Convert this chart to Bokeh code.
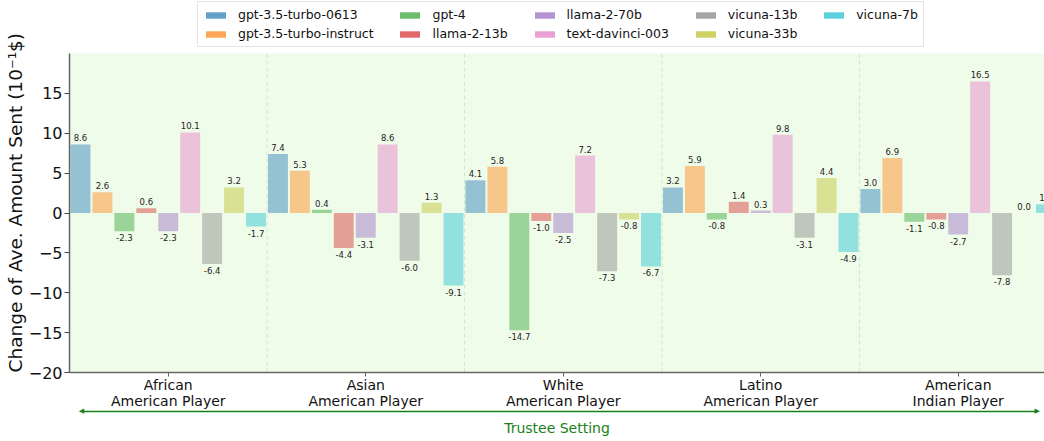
from bokeh.plotting import figure
from bokeh.models import (ColumnDataSource, FixedTicker, Legend, LegendItem,
                          Range1d, LinearAxis, BoxAnnotation, Title)
from bokeh.embed import file_html
from bokeh.resources import INLINE
from bokeh.core.properties import value

groups = ["African\nAmerican Player", "Asian\nAmerican Player", "White\nAmerican Player",
          "Latino\nAmerican Player", "American\nIndian Player"]
models = ["gpt-3.5-turbo-0613", "gpt-3.5-turbo-instruct", "gpt-4", "llama-2-13b",
          "llama-2-70b", "text-davinci-003", "vicuna-13b", "vicuna-33b", "vicuna-7b"]
colors = ["#1f77b4", "#ff7f0e", "#2ca02c", "#d62728", "#9467bd", "#e377c2",
          "#7f7f7f", "#bcbd22", "#17becf"]

gpt35_0613 = [8.6, 7.4, 4.1, 3.2, 3.0]
gpt35_instruct = [2.6, 5.3, 5.8, 5.9, 6.9]
gpt4 = [-2.3, 0.4, -14.7, -0.8, -1.1]
llama2_13b = [0.6, -4.4, -1.0, 1.4, -0.8]
llama2_70b = [-2.3, -3.1, -2.5, 0.3, -2.7]
davinci003 = [10.1, 8.6, 7.2, 9.8, 16.5]
vicuna13b = [-6.4, -6.0, -7.3, -3.1, -7.8]
vicuna33b = [3.2, 1.3, -0.8, 4.4, 0.0]
vicuna7b = [-1.7, -9.1, -6.7, -4.9, 1.1]
series = [gpt35_0613, gpt35_instruct, gpt4, llama2_13b, llama2_70b,
          davinci003, vicuna13b, vicuna33b, vicuna7b]

y_ticks = [-20, -15, -10, -5, 0, 5, 10, 15]
Y_MIN, Y_MAX = -20, 20
ARROW_X = (-0.44, 4.40)

FONT = "DejaVu Sans"
GREEN = "#1a801a"
PX_PER_UNIT = 372 / 46.646          # frame spans canvas top to the x axis
Y_TOP = Y_MAX + 53 / PX_PER_UNIT    # room above the axes for the legend

p = figure(width=1044, height=441, output_backend="svg", toolbar_location=None,
           x_range=Range1d(-0.5, 4.437), y_range=Range1d(Y_MIN, Y_TOP),
           min_border_left=69, min_border_right=0, min_border_top=0, min_border_bottom=69)
p.background_fill_color = "white"
p.border_fill_color = "white"
p.outline_line_color = None

# plotting-area background (only between the axis limits)
p.add_layout(BoxAnnotation(bottom=Y_MIN, top=Y_MAX, fill_color="#f0fcea", fill_alpha=1.0,
                           line_color=None, level="underlay"))

# dashed separators between groups
bounds_x = [i + 0.5 for i in range(len(groups) - 1)]
p.segment(x0=bounds_x, x1=bounds_x, y0=[Y_MIN] * len(bounds_x), y1=[Y_MAX] * len(bounds_x),
          line_color="#d5e3d2", line_dash="4 3", line_width=1)

n = len(models)
step = 1.0 / n
legend_items = []
pos_x, pos_y, pos_t = [], [], []
neg_x, neg_y, neg_t = [], [], []
pad = "\u00a0" * 5
for j, (name, col, vals) in enumerate(zip(models, colors, series)):
    xs = [i + (j - (n - 1) / 2) * step for i in range(len(groups))]
    src = ColumnDataSource(dict(x=xs, top=vals))
    p.vbar(x="x", top="top", bottom=0, width=0.101, source=src,
           fill_color=col, fill_alpha=0.43, line_color=None)
    dummy = p.vbar(x=[-50], top=[0], bottom=[0], width=0.1, fill_color=col,
                   fill_alpha=0.7, line_color=None)
    label = name if j == n - 1 else name + pad
    legend_items.append(LegendItem(label=label, renderers=[dummy]))
    for x, v in zip(xs, vals):
        if v >= 0:
            pos_x.append(x); pos_y.append(v); pos_t.append(f"{v:.1f}")
        else:
            neg_x.append(x); neg_y.append(v); neg_t.append(f"{v:.1f}")

p.text(x=pos_x, y=pos_y, text=pos_t, text_align="center", text_baseline="bottom",
       y_offset=-3, text_font_size="8.5px", text_color="#222222", text_font=value(FONT))
p.text(x=neg_x, y=neg_y, text=neg_t, text_align="center", text_baseline="top",
       y_offset=3, text_font_size="8.5px", text_color="#222222", text_font=value(FONT))

# x axis (group labels)
xa = p.xaxis[0]
xa.ticker = FixedTicker(ticks=list(range(len(groups))))
xa.major_label_overrides = {i: g for i, g in enumerate(groups)}
xa.major_label_text_font = FONT
xa.major_label_text_font_size = "14px"
xa.major_label_text_line_height = 1.0
xa.major_label_text_color = "#111111"
xa.major_label_standoff = 0
xa.major_tick_out = 4
xa.major_tick_in = 0
xa.minor_tick_out = 0
xa.minor_tick_in = 0
xa.axis_line_color = "#666666"
xa.axis_line_width = 1.5
xa.major_tick_line_color = "#666666"

# second axis below: green double arrow + "Trustee Setting"
xa2 = LinearAxis(ticker=FixedTicker(ticks=list(ARROW_X)), bounds=ARROW_X,
                 axis_line_color=GREEN, axis_line_width=1.3,
                 major_tick_out=0, major_tick_in=0, minor_tick_out=0, minor_tick_in=0,
                 major_label_overrides={ARROW_X[0]: "\u25c0", ARROW_X[1]: "\u25b6"},
                 major_label_text_color=GREEN, major_label_text_font=FONT,
                 major_label_text_font_size="7px", major_label_standoff=-5,
                 axis_label="Trustee Setting", axis_label_text_color=GREEN,
                 axis_label_text_font=FONT, axis_label_text_font_size="14px",
                 axis_label_text_font_style="normal", axis_label_standoff=2)
p.add_layout(xa2, "below")

ya = p.yaxis[0]
ya.ticker = FixedTicker(ticks=y_ticks)
ya.bounds = (Y_MIN, Y_MAX)
ya.major_label_overrides = {t: (f"\u2212{abs(t)}" if t < 0 else str(t)) for t in y_ticks}
ya.major_label_text_font = FONT
ya.major_label_text_font_size = "16px"
ya.major_label_text_color = "#111111"
ya.major_label_standoff = 2
ya.major_tick_out = 5
ya.major_tick_in = 0
ya.minor_tick_out = 0
ya.minor_tick_in = 0
ya.axis_line_color = "#666666"
ya.axis_line_width = 1.5
ya.major_tick_line_color = "#444444"

# y label as a side title, starting at the bottom of the axis
p.add_layout(Title(text="Change of Ave. Amount Sent (10\u207b\u00b9$)", align="left",
                   offset=0, standoff=0, text_font=FONT, text_font_size="18.5px",
                   text_font_style="normal", text_color="#111111"), "left")

p.xgrid.grid_line_color = None
p.ygrid.grid_line_color = None

legend = Legend(items=legend_items, orientation="vertical", nrows=2,
                location=(128, 325), label_text_font=FONT,
                label_text_font_size="12.5px", label_text_color="#111111",
                glyph_width=25, glyph_height=8, label_standoff=10, spacing=4,
                padding=5, margin=0, label_height=13,
                border_line_color="#cccccc", border_line_width=1,
                background_fill_color="white")
p.add_layout(legend, "center")

open("out.html", "w").write(file_html(p, INLINE))
